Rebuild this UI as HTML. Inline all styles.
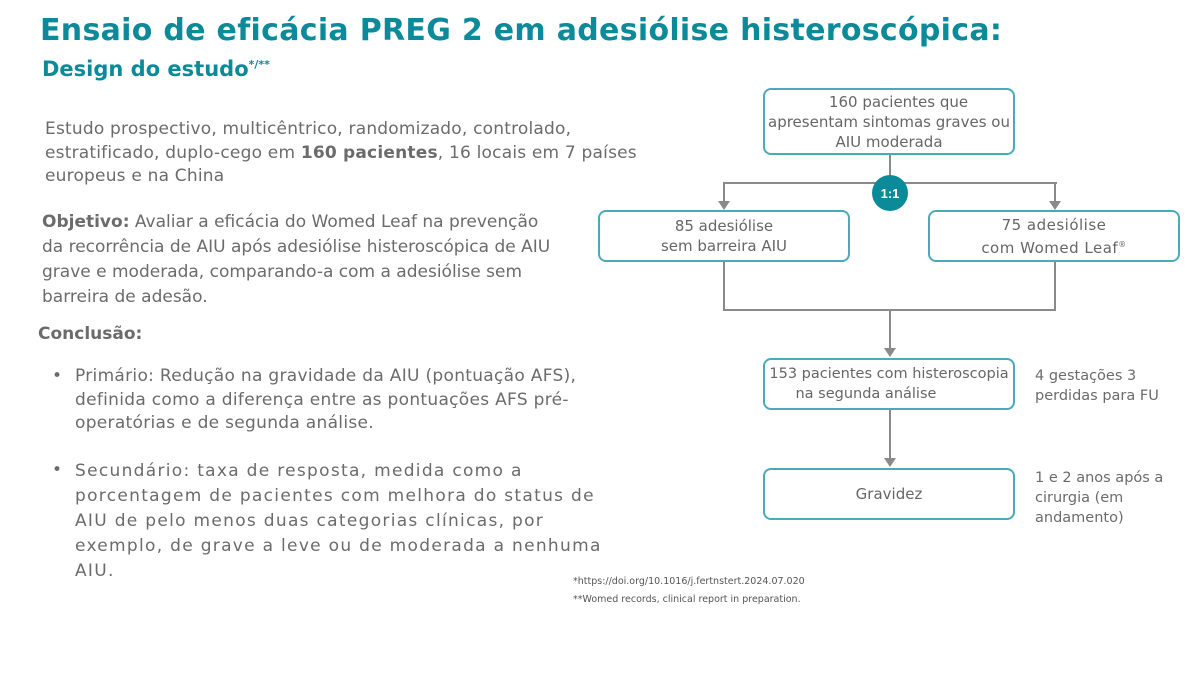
<!DOCTYPE html>
<html><head><meta charset="utf-8"><style>
body{margin:0;width:1186px;height:673px;background:#fff;position:relative;overflow:hidden;font-family:"DejaVu Sans","Liberation Sans",sans-serif;color:#6b6b6b}
.a{position:absolute;white-space:nowrap}
h1{position:absolute;left:40px;top:13px;margin:0;font-size:30px;font-weight:bold;color:#0b8a9a;letter-spacing:0.3px;white-space:nowrap}
h2{position:absolute;left:42px;top:57px;margin:0;font-size:21px;font-weight:bold;color:#0b8a9a;white-space:nowrap}
.t{font-size:17px;line-height:23.5px}
.box{position:absolute;border:2px solid #4aaab9;border-radius:8px;box-sizing:border-box;display:flex;align-items:center;justify-content:center;text-align:center;font-size:15px;line-height:20px;color:#666}
.ln{position:absolute;background:#8a8a8a}
</style></head><body>
<h1>Ensaio de eficácia PREG 2 em adesiólise histeroscópica:</h1>
<h2>Design do estudo<sup style="font-size:11px">*/**</sup></h2>
<div class="a t" style="left:45px;top:118px;letter-spacing:0.2px">Estudo prospectivo, multicêntrico, randomizado, controlado,<br>estratificado, duplo-cego em <b>160 pacientes</b>, 16 locais em 7 países<br>europeus e na China</div>
<div class="a t" style="left:42px;top:210px;line-height:25px"><b>Objetivo:</b> Avaliar a eficácia do Womed Leaf na prevenção<br>da recorrência de AIU após adesiólise histeroscópica de AIU<br>grave e moderada, comparando-a com a adesiólise sem<br>barreira de adesão.</div>
<div class="a t" style="left:38px;top:323px"><b>Conclusão:</b></div>
<div class="a t" style="left:52px;top:365px">•</div>
<div class="a t" style="left:75px;top:365px;letter-spacing:0.3px">Primário: Redução na gravidade da AIU (pontuação AFS),<br>definida como a diferença entre as pontuações AFS pré-<br>operatórias e de segunda análise.</div>
<div class="a t" style="left:52px;top:459px">•</div>
<div class="a t" style="left:75px;top:459px;line-height:25px;letter-spacing:1.3px">Secundário: taxa de resposta, medida como a<br>porcentagem de pacientes com melhora do status de<br>AIU de pelo menos duas categorias clínicas, por<br>exemplo, de grave a leve ou de moderada a nenhuma<br>AIU.</div>
<div class="a" style="left:573px;top:573px;font-size:9.5px;line-height:18px;color:#555">*https://doi.org/10.1016/j.fertnstert.2024.07.020<br>**Womed records, clinical report in preparation.</div>

<div class="box" style="left:763px;top:88px;width:252px;height:67px">&nbsp;&nbsp;&nbsp;&nbsp;160 pacientes que<br>apresentam sintomas graves ou<br>AIU moderada</div>
<div class="ln" style="left:889px;top:155px;width:2px;height:28px"></div>
<div class="ln" style="left:724px;top:182px;width:333px;height:2px"></div>
<div class="ln" style="left:723px;top:182px;width:2px;height:22px"></div>
<div class="ln" style="left:1054px;top:182px;width:2px;height:22px"></div>
<svg class="a" style="left:0;top:0" width="1186" height="673">
<polygon points="718,201 730,201 724,210" fill="#8a8a8a"/>
<polygon points="1049,201 1061,201 1055,210" fill="#8a8a8a"/>
<polygon points="884,348 896,348 890,357" fill="#8a8a8a"/>
<polygon points="884,458 896,458 890,467" fill="#8a8a8a"/>
<circle cx="890" cy="193" r="18" fill="#0b8a9a"/>
<text x="890" y="198" text-anchor="middle" font-size="13" font-weight="bold" fill="#fff" font-family="Liberation Sans">1:1</text>
</svg>
<div class="box" style="left:598px;top:210px;width:252px;height:52px">85 adesiólise<br>sem barreira AIU</div>
<div class="box" style="left:928px;top:210px;width:252px;height:52px"><span style="letter-spacing:0.5px">75 adesiólise<br>com Womed Leaf<sup style="font-size:8px">®</sup></span></div>
<div class="ln" style="left:723px;top:262px;width:2px;height:49px"></div>
<div class="ln" style="left:1054px;top:262px;width:2px;height:49px"></div>
<div class="ln" style="left:723px;top:309px;width:333px;height:2px"></div>
<div class="ln" style="left:889px;top:309px;width:2px;height:40px"></div>
<div class="box" style="left:763px;top:358px;width:252px;height:52px;font-size:14.5px">153 pacientes com histeroscopia<br>na segunda análise&nbsp;&nbsp;&nbsp;&nbsp;&nbsp;&nbsp;&nbsp;&nbsp;&nbsp;&nbsp;</div>
<div class="ln" style="left:889px;top:410px;width:2px;height:49px"></div>
<div class="box" style="left:763px;top:468px;width:252px;height:52px">Gravidez</div>
<div class="a" style="left:1035px;top:366px;font-size:14.5px;line-height:20px">4 gestações 3<br>perdidas para FU</div>
<div class="a" style="left:1035px;top:468px;font-size:14.5px;line-height:20px">1 e 2 anos após a<br>cirurgia (em<br>andamento)</div>
</body></html>
